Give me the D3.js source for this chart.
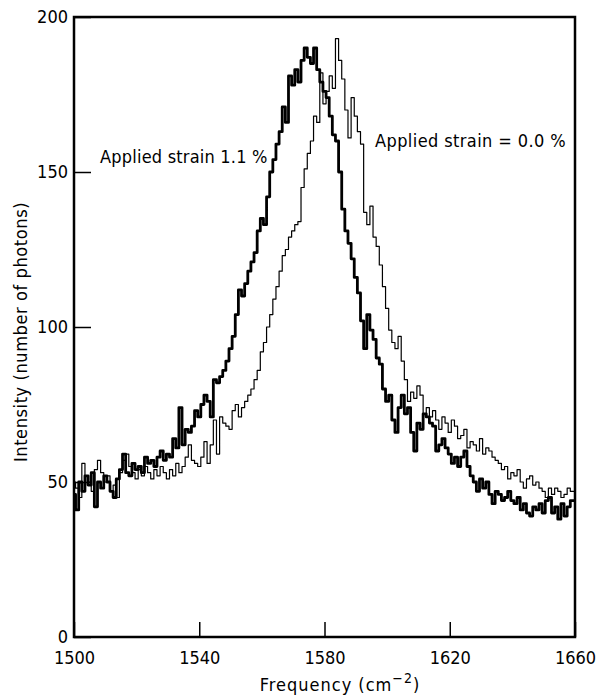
<!DOCTYPE html>
<html>
<head>
<meta charset="utf-8">
<script src="https://cdn.jsdelivr.net/npm/d3@7"></script>
<style>
  body { margin: 0; background: #fff; }
  text { font-family: "DejaVu Sans Condensed", "DejaVu Sans", sans-serif; fill: #000; }
</style>
</head>
<body>
<div id="chart"></div>
<script>
// Frequency axis (cm^-2), one reading every 1 cm^-1
const freqStart = 1500;
const xTicks = [1500, 1540, 1580, 1620, 1660];
const yTicks = [0, 50, 100, 150, 200];

// Applied strain 1.1 % (thick trace)
const strain11 = [
  46, 41, 50, 47, 52, 49, 53, 42, 50, 48,
  52, 50, 47, 45, 51, 54, 59, 53, 52, 56,
  54, 55, 53, 58, 56, 57, 55, 58, 60, 57,
  59, 58, 64, 61, 74, 62, 67, 66, 68, 73,
  71, 75, 78, 76, 71, 83, 82, 84, 86, 89,
  93, 97, 104, 112, 110, 114, 118, 121, 124, 131,
  135, 133, 142, 150, 154, 159, 163, 171, 166, 181,
  178, 183, 179, 186, 190, 187, 185, 190, 183, 179,
  176, 174, 168, 162, 160, 150, 138, 131, 127, 122,
  116, 111, 102, 93, 104, 99, 96, 90, 88, 80,
  76, 78, 70, 66, 74, 78, 72, 74, 66, 60,
  69, 67, 72, 71, 69, 68, 60, 62, 64, 61,
  59, 56, 58, 55, 58, 60, 55, 52, 50, 47,
  51, 48, 50, 46, 43, 47, 46, 44, 45, 47,
  44, 43, 45, 41, 43, 40, 39, 42, 41, 43,
  40, 44, 45, 40, 42, 38, 43, 39, 42, 44,
  44
];

// Applied strain 0.0 % (thin trace)
const strain00 = [
  50, 48, 45, 56, 52, 50, 47, 54, 57, 53,
  50, 52, 47, 49, 45, 53, 57, 59, 55, 53,
  51, 54, 52, 55, 53, 51, 54, 52, 55, 53,
  51, 54, 52, 56, 53, 55, 58, 62, 57, 56,
  55, 58, 63, 56, 62, 70, 59, 71, 69, 68,
  67, 73, 75, 71, 74, 76, 78, 80, 83, 86,
  92, 95, 100, 104, 109, 113, 118, 123, 125, 129,
  131, 133, 134, 145, 151, 156, 160, 168, 166, 182,
  172, 176, 181, 177, 193, 186, 180, 170, 161, 174,
  168, 163, 159, 137, 133, 139, 129, 126, 120, 113,
  106, 99, 95, 93, 97, 89, 83, 76, 79, 77,
  81, 78, 72, 74, 71, 73, 70, 67, 71, 69,
  66, 70, 68, 64, 65, 67, 61, 63, 62, 60,
  64, 59, 61, 60, 58, 57, 56, 54, 55, 51,
  53, 52, 54, 50, 48, 51, 52, 49, 50, 48,
  47, 45, 48, 46, 48, 47, 45, 46, 48, 47,
  47
];

const width = 596, height = 699;
const margin = { left: 74, right: 21, top: 17, bottom: 62 };

const svg = d3.select('#chart').append('svg')
  .attr('width', width)
  .attr('height', height);

const x = d3.scaleLinear().domain([1500, 1660]).range([margin.left, width - margin.right]);
const y = d3.scaleLinear().domain([0, 200]).range([height - margin.bottom, margin.top]);

const line = d3.line()
  .x((d, i) => x(freqStart + i))
  .y(d => y(d))
  .curve(d3.curveStep);

// traces
svg.append('path')
  .datum(strain00)
  .attr('d', line)
  .attr('fill', 'none')
  .attr('stroke', '#000')
  .attr('stroke-width', 1.2)
  .attr('stroke-linejoin', 'round');

svg.append('path')
  .datum(strain11)
  .attr('d', line)
  .attr('fill', 'none')
  .attr('stroke', '#000')
  .attr('stroke-width', 2.8)
  .attr('stroke-linejoin', 'round');

// axes with inward ticks
const xAxis = svg.append('g')
  .attr('transform', `translate(0,${y(0)})`)
  .call(d3.axisBottom(x).tickValues(xTicks).tickSize(-15).tickPadding(14).tickFormat(d3.format('d')));

const yAxis = svg.append('g')
  .attr('transform', `translate(${x(1500)},0)`)
  .call(d3.axisLeft(y).tickValues(yTicks).tickSize(-17).tickPadding(6));

[xAxis, yAxis].forEach(g => {
  g.select('.domain').remove();
  g.selectAll('.tick line').attr('stroke', '#000').attr('stroke-width', 1.5);
  g.selectAll('.tick text').style('font-size', '18px').attr('fill', '#000');
});

// frame
svg.append('rect')
  .attr('x', x(1500))
  .attr('y', y(200))
  .attr('width', x(1660) - x(1500))
  .attr('height', y(0) - y(200))
  .attr('fill', 'none')
  .attr('stroke', '#000')
  .attr('stroke-width', 2.5);

// axis titles
const xTitle = svg.append('text')
  .attr('x', 340)
  .attr('y', 691)
  .attr('text-anchor', 'middle')
  .style('font-size', '18px')
  .style('letter-spacing', '1px');
xTitle.append('tspan').text('Frequency (cm');
xTitle.append('tspan').attr('dy', -8).style('font-size', '14px').text('−2');
xTitle.append('tspan').attr('dy', 8).text(')');

svg.append('text')
  .attr('transform', 'translate(27,332) rotate(-90)')
  .attr('text-anchor', 'middle')
  .style('font-size', '18px')
  .style('letter-spacing', '0.6px')
  .text('Intensity (number of photons)');

// annotations
svg.append('text')
  .attr('x', 100)
  .attr('y', 163)
  .style('font-size', '18px')
  .style('letter-spacing', '0.2px')
  .text('Applied strain 1.1 %');

svg.append('text')
  .attr('x', 375)
  .attr('y', 147)
  .style('font-size', '18px')
  .style('letter-spacing', '0.4px')
  .text('Applied strain = 0.0 %');
</script>
</body>
</html>
